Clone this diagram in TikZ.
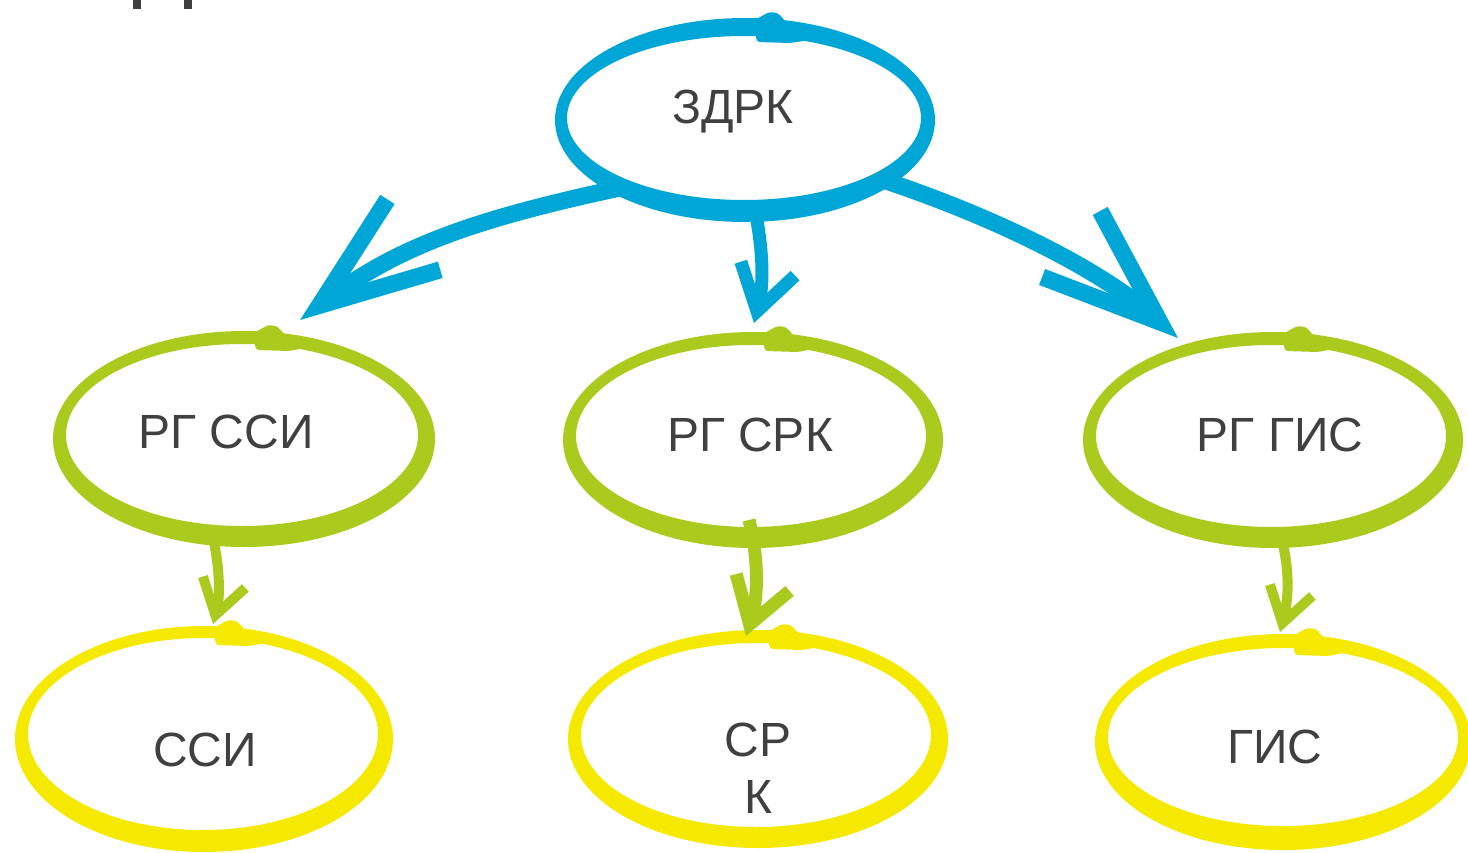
\documentclass[tikz,border=0pt]{standalone}
\usepackage{fontspec}
\setmainfont{Liberation Sans}
\usetikzlibrary{arrows.meta,calc}
\definecolor{zblue}{RGB}{0,166,214}
\definecolor{rggreen}{RGB}{170,202,30}
\definecolor{gyellow}{RGB}{246,233,0}
\definecolor{txtgray}{RGB}{64,64,64}

\begin{document}
\begin{tikzpicture}[x=1pt, y=-1pt,
  lbl/.style={text=txtgray, font=\fontsize{48}{57}\selectfont, align=center, inner sep=0pt},
  bigarrow/.style={line width=17pt, -{Straight Barb[length=118pt, width=88pt]}},
  midarrow/.style={line width=13pt, -{Straight Barb[length=44pt, width=56pt]}},
  smallarrow/.style={line width=10pt, -{Straight Barb[length=34pt, width=44pt]}}]
  \clip (0,0) rectangle (1468,852);
  \useasboundingbox (0,0) rectangle (1468,852);

  % cut-off letter at the top edge
  \fill[txtgray] (133,0) rectangle (141,9);
  \fill[txtgray] (184,0) rectangle (192,9);

  % hand-drawn rings (outer minus inner ellipse, plus the pen start)
  \fill[zblue, even odd rule] (745,120) ellipse (190 and 102) (744,118) ellipse (177 and 82);
  \fill[zblue, rounded corners=3pt] (753,21) -- (769,12) -- (778,13) -- (787,23) -- cycle
    (755,32) -- (757,42) -- (790,43) -- (810,40) -- cycle;

  \fill[rggreen, even odd rule] (244,439) ellipse (191 and 108) (242,435) ellipse (176 and 91);
  \fill[rggreen, rounded corners=3pt] (252,334) -- (268,325) -- (277,326) -- (286,336) -- cycle
    (254,339) -- (256,350) -- (289,351) -- (309,347) -- cycle;

  \fill[rggreen, even odd rule] (753,440) ellipse (190 and 108) (751,436) ellipse (175 and 91);
  \fill[rggreen, rounded corners=3pt] (761,335) -- (777,326) -- (786,327) -- (795,337) -- cycle
    (763,340) -- (765,351) -- (798,352) -- (818,348) -- cycle;

  \fill[rggreen, even odd rule] (1273,440) ellipse (190 and 108) (1271,436) ellipse (175 and 91);
  \fill[rggreen, rounded corners=3pt] (1281,335) -- (1297,326) -- (1306,327) -- (1315,337) -- cycle
    (1283,340) -- (1285,351) -- (1318,352) -- (1338,348) -- cycle;

  \fill[gyellow, even odd rule] (204,739) ellipse (189 and 113) (203,734) ellipse (175 and 96);
  \fill[gyellow, rounded corners=3pt] (212,629) -- (228,620) -- (237,621) -- (246,631) -- cycle
    (214,634) -- (216,645) -- (249,646) -- (269,642) -- cycle;

  \fill[gyellow, even odd rule] (758,739) ellipse (190 and 109) (756,735) ellipse (175 and 92);
  \fill[gyellow, rounded corners=3pt] (766,633) -- (782,624) -- (791,625) -- (800,635) -- cycle
    (768,638) -- (770,649) -- (803,650) -- (823,646) -- cycle;

  \fill[gyellow, even odd rule] (1283,742) ellipse (188 and 108) (1283,737) ellipse (175 and 89);
  \fill[gyellow, rounded corners=3pt] (1291,637) -- (1307,628) -- (1316,629) -- (1325,639) -- cycle
    (1293,644) -- (1295,655) -- (1328,656) -- (1348,652) -- cycle;

  % labels
  \node[lbl] (zdrk)  at (733,112)  {ЗДРК};
  \node[lbl] (rgssi) at (226,432)  {РГ ССИ};
  \node[lbl] (rgsrk) at (750,435)  {РГ СРК};
  \node[lbl] (rggis) at (1280,435) {РГ ГИС};
  \node[lbl] (ssi)   at (205,750)  {ССИ};
  \node[lbl] (srk)   at (758,768)  {СР\\К};
  \node[lbl] (gis)   at (1275,747) {ГИС};

  % top level arrows
  \draw[zblue, bigarrow] ($(zdrk)+(-113,76)$) .. controls +(-150,32) and +(96,-72) .. ($(rgssi)+(74,-112)$);
  \draw[zblue, midarrow] ($(zdrk)+(22,98)$) .. controls +(8,40) and +(10,-39) .. ($(rgsrk)+(4,-112)$);
  \draw[zblue, bigarrow] ($(zdrk)+(150,68)$) .. controls +(120,40) and +(-75,-66) .. ($(rggis)+(-102,-97)$);

  % second level arrows
  \draw[rggreen, smallarrow] ($(rgssi)+(-14,101)$) .. controls +(7,30) and +(8,-30) .. ($(ssi)+(8,-126)$);
  \draw[rggreen, midarrow] ($(rgsrk)+(-1,85)$) .. controls +(10,40) and +(12,-38) .. ($(srk)+(-12,-132)$);
  \draw[rggreen, smallarrow] ($(rggis)+(3,110)$) .. controls +(7,30) and +(8,-30) .. ($(gis)+(5,-115)$);

\end{tikzpicture}
\end{document}
